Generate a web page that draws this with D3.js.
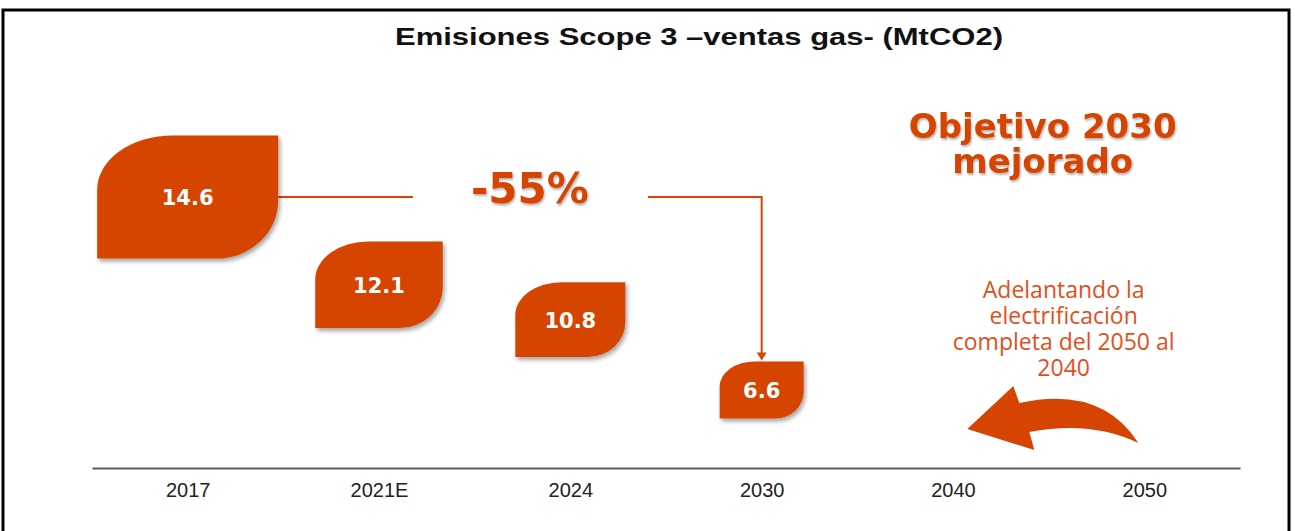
<!DOCTYPE html>
<html>
<head>
<meta charset="utf-8">
<script src="https://cdn.jsdelivr.net/npm/d3@7"></script>
<style>
  body { margin: 0; background: #fff; }
  svg { display: block; }
</style>
</head>
<body>
<div id="chart"></div>
<script>
(function () {

  // data
  var categories = ["2017", "2021E", "2024", "2030", "2040", "2050"]
  var years = ["2017", "2021E", "2024", "2030"]
  var values = [14.6, 12.1, 10.8, 6.6]
  var titleText = "Emisiones Scope 3 \u2013ventas gas- (MtCO2)"
  var targetLines = ["Objetivo 2030", "mejorado"]
  var noteLines = ["Adelantando la", "electrificaci\u00f3n", "completa del 2050 al", "2040"]

  var width = 1295, height = 531
  var orange = "#d54400"
  var axisY = 468

  var svg = d3.select("#chart").append("svg")
    .attr("width", width)
    .attr("height", height)

  var defs = svg.append("defs")
  defs.append("filter").attr("id", "shadow")
    .attr("x", "-20%").attr("y", "-20%").attr("width", "140%").attr("height", "140%")
    .append("feDropShadow")
    .attr("dx", 2).attr("dy", 3).attr("stdDeviation", 2)
    .attr("flood-color", "#000").attr("flood-opacity", 0.35)
  defs.append("filter").attr("id", "tshadow")
    .attr("x", "-10%").attr("y", "-20%").attr("width", "120%").attr("height", "150%")
    .append("feDropShadow")
    .attr("dx", 1).attr("dy", 2).attr("stdDeviation", 1.2)
    .attr("flood-color", "#000").attr("flood-opacity", 0.3)

  // frame
  svg.append("rect")
    .attr("x", 3).attr("y", 10)
    .attr("width", 1286).attr("height", 540)
    .attr("fill", "none")
    .attr("stroke", "#000")
    .attr("stroke-width", 3)

  // title
  svg.append("text")
    .attr("x", 699).attr("y", 45)
    .attr("text-anchor", "middle")
    .attr("textLength", 608)
    .attr("lengthAdjust", "spacingAndGlyphs")
    .style("font-family", "'Liberation Sans', Arial, sans-serif")
    .style("font-weight", "bold")
    .style("font-size", "23px")
    .attr("fill", "#111")
    .text(titleText)

  // scales
  var xPositionScale = d3.scalePoint()
    .domain(categories)
    .range([92, 1240])
    .padding(0.5)

  var sizeScale = d3.scalePow().exponent(4)
    .domain([d3.min(values), d3.max(values)])
    .range([84, 181])

  var yPositionScale = d3.scalePow().exponent(2.75)
    .domain([d3.min(values), d3.max(values)])
    .range([390, 197])

  var datapoints = years.map(function (y, i) { return { year: y, value: values[i] } })

  function leaf(d) {
    var w = sizeScale(d.value), h = w * 0.68
    var cx = xPositionScale(d.year), cy = yPositionScale(d.value)
    var x0 = cx - w / 2, x1 = cx + w / 2, y0 = cy - h / 2, y1 = cy + h / 2
    var rx1 = w * 0.42, ry1 = h * 0.44, rx2 = w * 0.34, ry2 = h * 0.47
    return "M" + x0 + "," + (y0 + ry1) +
      "A" + rx1 + "," + ry1 + " 0 0 1 " + (x0 + rx1) + "," + y0 +
      "L" + x1 + "," + y0 +
      "L" + x1 + "," + (y1 - ry2) +
      "A" + rx2 + "," + ry2 + " 0 0 1 " + (x1 - rx2) + "," + y1 +
      "L" + x0 + "," + y1 + "Z"
  }

  // axis
  var xAxis = d3.axisBottom(xPositionScale).tickSize(0).tickSizeOuter(0).tickPadding(15)
  var axisG = svg.append("g")
    .attr("class", "axis x-axis")
    .attr("transform", "translate(0," + axisY + ")")
    .call(xAxis)
  axisG.select(".domain").attr("stroke", "#5a5a5a").attr("stroke-width", 2)
  axisG.selectAll("text")
    .style("font-family", "'Liberation Sans', Arial, sans-serif")
    .style("font-size", "20px")
    .attr("fill", "#222")

  // connector from first to last leaf
  var first = datapoints[0], last = datapoints[datapoints.length - 1]
  var lx0 = xPositionScale(first.year) + sizeScale(first.value) / 2
  var ly = yPositionScale(first.value)
  var lx1 = xPositionScale(last.year)
  var lyEnd = yPositionScale(last.value) - sizeScale(last.value) * 0.68 / 2
  var labelX = (lx0 + lx1) / 2 + 10

  svg.append("path")
    .attr("d", "M" + lx0 + "," + ly + "H" + (labelX - 117))
    .attr("stroke", orange).attr("stroke-width", 2).attr("fill", "none")
  svg.append("path")
    .attr("d", "M" + (labelX + 118) + "," + ly + "H" + lx1 + "V" + (lyEnd - 7))
    .attr("stroke", orange).attr("stroke-width", 2).attr("fill", "none")
  svg.append("path")
    .attr("d", "M" + (lx1 - 5) + "," + (lyEnd - 9) + "L" + (lx1 + 5) + "," + (lyEnd - 9) + "L" + lx1 + "," + (lyEnd - 1) + "Z")
    .attr("fill", orange)

  var change = (last.value - first.value) / first.value
  svg.append("text")
    .attr("x", labelX).attr("y", ly + 6)
    .attr("text-anchor", "middle")
    .attr("filter", "url(#tshadow)")
    .style("font-family", "'DejaVu Sans', sans-serif")
    .style("font-weight", "bold")
    .style("font-size", "42px")
    .attr("fill", orange)
    .text(d3.format(".0%")(change).replace("\u2212", "-"))

  // leaves
  svg.selectAll(".leaf")
    .data(datapoints)
    .enter().append("path")
    .attr("class", "leaf")
    .attr("d", leaf)
    .attr("fill", orange)
    .attr("filter", "url(#shadow)")

  svg.selectAll(".leaf-label")
    .data(datapoints)
    .enter().append("text")
    .attr("class", "leaf-label")
    .attr("x", function (d) { return xPositionScale(d.year) })
    .attr("y", function (d) { return yPositionScale(d.value) + 8 })
    .attr("text-anchor", "middle")
    .style("font-family", "'DejaVu Sans', sans-serif")
    .style("font-weight", "bold")
    .style("font-size", "21px")
    .attr("fill", "#fff")
    .text(function (d) { return d3.format(".1f")(d.value) })

  // target annotation
  var tx = (xPositionScale("2040") + xPositionScale("2050")) / 2 - 6
  svg.append("text")
    .attr("x", tx).attr("y", 138)
    .attr("text-anchor", "middle")
    .attr("filter", "url(#tshadow)")
    .style("font-family", "'DejaVu Sans', sans-serif")
    .style("font-weight", "bold")
    .style("font-size", "34px")
    .attr("fill", orange)
    .selectAll("tspan")
    .data(targetLines)
    .enter().append("tspan")
    .attr("x", tx)
    .attr("dy", function (d, i) { return i ? 35 : 0 })
    .text(function (d) { return d })

  // note and curved arrow
  var nx = tx + 21
  svg.append("text")
    .attr("x", nx).attr("y", 298)
    .attr("text-anchor", "middle")
    .style("font-family", "'Open Sans', sans-serif")
    .style("font-size", "23px")
    .attr("fill", "#e0501c")
    .selectAll("tspan")
    .data(noteLines)
    .enter().append("tspan")
    .attr("x", nx)
    .attr("dy", function (d, i) { return i ? 26 : 0 })
    .text(function (d) { return d })

  var ax = xPositionScale("2050")
  svg.append("path")
    .attr("transform", "translate(" + ax + "," + axisY + ")")
    .attr("d", "M-177,-39 L-131,-82 L-125,-65 Q-43,-83 -6,-25 Q-53,-48 -115,-36 L-110,-18 Z")
    .attr("fill", orange)

})()
</script>
</body>
</html>
